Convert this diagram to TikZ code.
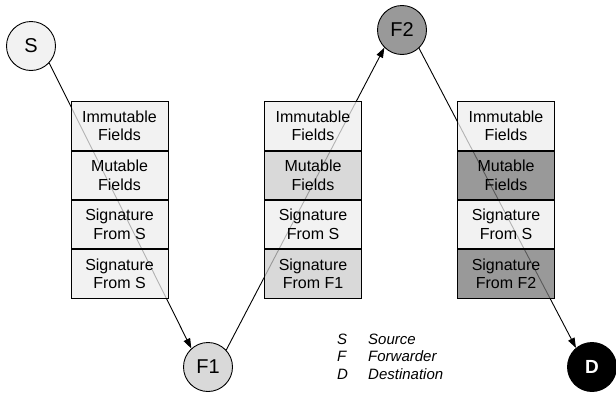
\documentclass[tikz,border=0pt]{standalone}
\usepackage{fontspec}
\setmainfont{Liberation Sans}
\usetikzlibrary{positioning, arrows.meta}

\definecolor{lighthop}{HTML}{F2F2F2}
\definecolor{midhop}{HTML}{D9D9D9}
\definecolor{darkhop}{HTML}{999999}
% packet fills are see-through, so they are set darker to come out the same
\definecolor{lightfld}{HTML}{EEEEEE}
\definecolor{midfld}{HTML}{CCCCCC}
\definecolor{darkfld}{HTML}{777777}

\begin{document}
\begin{tikzpicture}[x=1pt, y=-1pt,
        hop/.style={circle, draw, line width=0.9pt, minimum size=49pt, inner sep=0pt,
            font=\fontsize{20}{20}\selectfont},
        field/.style={rectangle, draw, line width=0.7pt, minimum width=97pt,
            minimum height=48.5pt, inner sep=0pt, align=center,
            fill opacity=0.75, text opacity=1, font=\fontsize{16}{18.5}\selectfont},
        hopline/.style={line width=0.9pt, -{Triangle[length=10pt, width=7pt]}}]
        \useasboundingbox (0, 0) rectangle (616, 399);

        % the hops
        \node [hop, fill=lighthop] (S) at (31, 46) {S};
        \node [hop, fill=midhop] (F1) at (208, 367) {F1};
        \node [hop, fill=darkhop] (F2) at (402, 30) {F2};
        \node [hop, fill=black, text=white, font=\fontsize{19}{19}\selectfont\bfseries] (D) at (592, 367) {D};

        % the route, drawn under the packets
        \draw [hopline] (S.-43) -- (F1.132);
        \draw [hopline] (F1.43) -- (F2.-135);
        \draw [hopline] (F2.-47) -- (D.130);

        % packet leaving S
        \node [field, fill=lightfld] (imm1) at (119.5, 126) {Immutable\\Fields};
        \node [field, fill=lightfld, below=0pt of imm1] (mut1) {Mutable\\Fields};
        \node [field, fill=lightfld, below=0pt of mut1] (sigA1) {Signature\\From S};
        \node [field, fill=lightfld, below=0pt of sigA1] (sigB1) {Signature\\From S};

        % packet leaving F1
        \node [field, fill=lightfld] (imm2) at (313, 126) {Immutable\\Fields};
        \node [field, fill=midfld, below=0pt of imm2] (mut2) {Mutable\\Fields};
        \node [field, fill=lightfld, below=0pt of mut2] (sigA2) {Signature\\From S};
        \node [field, fill=midfld, below=0pt of sigA2] (sigB2) {Signature\\From F1};

        % packet leaving F2
        \node [field, fill=lightfld] (imm3) at (506, 126) {Immutable\\Fields};
        \node [field, fill=darkfld, below=0pt of imm3] (mut3) {Mutable\\Fields};
        \node [field, fill=lightfld, below=0pt of mut3] (sigA3) {Signature\\From S};
        \node [field, fill=darkfld, below=0pt of sigA3] (sigB3) {Signature\\From F2};

        % legend
        \foreach \k/\w [count=\i] in {S/Source, F/Forwarder, D/Destination} {
            \node [anchor=base west, inner sep=0pt, font=\fontsize{15}{15}\selectfont\itshape]
                (key\i) at (337, 344 + 17.5*\i - 17.5) {\k};
            \node [anchor=base west, inner sep=0pt, font=\fontsize{15}{15}\selectfont\itshape]
                (desc\i) at (368, 344 + 17.5*\i - 17.5) {\w};
        }
    \end{tikzpicture}
\end{document}
